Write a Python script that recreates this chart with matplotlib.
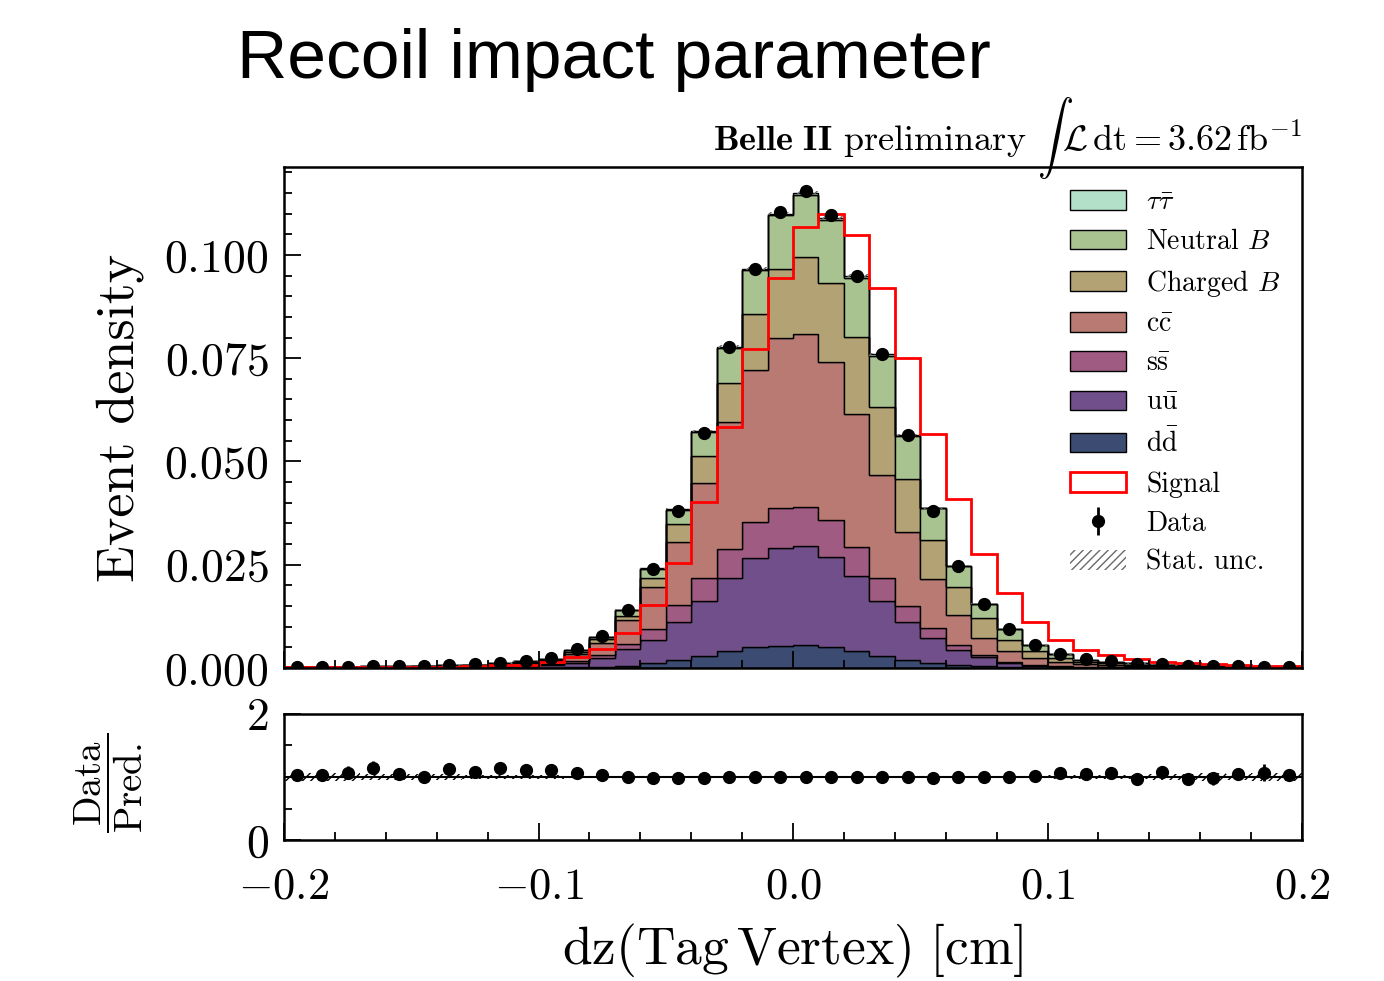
import numpy as np
import matplotlib
matplotlib.use("Agg")
import matplotlib.pyplot as plt
from matplotlib.patches import Patch
from matplotlib.ticker import MultipleLocator

plt.rcParams.update({
    "font.family": "serif",
    "font.serif": ["cmr10"],
    "mathtext.fontset": "cm",
    "axes.formatter.use_mathtext": True,
    "axes.unicode_minus": True,
})

# 40 bins of dz from -0.2 to 0.2 cm, densities in units of 1e-4
edges = np.round(np.linspace(-0.2, 0.2, 41), 3)
centers = 0.5 * (edges[:-1] + edges[1:])
unit = 1e-4

dd = [0.1, 0.1, 0.1, 0.1, 0.2, 0.2, 0.2, 0.3, 0.4, 0.6,
      1, 2, 3, 5, 12, 19, 29, 41, 50, 54,
      56, 50, 40, 29, 19, 13, 8, 5, 3, 1,
      1, 0.5, 0.4, 0.3, 0.2, 0.2, 0.1, 0.1, 0.1, 0.1]
uu = [0.7, 0.7, 0.7, 0.9, 0.8, 1.0, 1.3, 1.7, 2.4, 3.4,
      6, 11, 22, 41, 56, 92, 133, 178, 217, 237,
      239, 219, 183, 133, 92, 59, 36, 21, 9, 4,
      2, 1.5, 1.1, 0.9, 0.7, 0.5, 0.5, 0.4, 0.3, 0.3]
ss = [0.2, 0.2, 0.2, 0.3, 0.3, 0.4, 0.4, 0.6, 0.8, 1.5,
      2, 4, 6, 12, 26, 41, 57, 69, 87, 97,
      95, 89, 71, 57, 39, 24, 12, 6, 3, 2,
      1, 0.5, 0.5, 0.3, 0.2, 0.2, 0.1, 0.1, 0.1, 0.1]
cc = [1.0, 1.0, 1.0, 1.3, 1.3, 1.7, 2.0, 2.6, 3.6, 5.5,
      8, 17, 29, 58, 101, 154, 230, 308, 367, 412,
      418, 382, 320, 248, 178, 119, 72, 40, 25, 16,
      11, 6.5, 5, 3.5, 2.5, 1.9, 1.6, 1.2, 0.9, 0.9]
charged_b = [0.4, 0.4, 0.4, 0.5, 0.5, 0.6, 0.8, 1.0, 1.4, 2.5,
             3, 5, 9, 10, 24, 43, 65, 95, 136, 166,
             187, 191, 188, 165, 129, 95, 69, 48, 28, 17,
             8, 5, 4, 3, 2.4, 1.7, 1.4, 1.2, 0.9, 0.9]
neutral_b = [0.6, 0.6, 0.6, 0.9, 0.9, 1.1, 1.3, 1.8, 2.3, 2.4,
             1.9, 4.8, 6.7, 13.4, 21, 33.5, 57.7, 83.9, 106.1, 129.6,
             150.4, 154.6, 143.2, 124, 104.7, 76.4, 50, 35.4, 26.6, 14.8,
             9.9, 5.9, 3.9, 3, 2, 1.5, 1.3, 1.0, 0.7, 0.7]
tautau = [0, 0, 0, 0, 0, 0, 0, 0, 0.1, 0.1,
          0.1, 0.2, 0.3, 0.6, 1, 1.5, 2.3, 3.1, 3.9, 4.4,
          4.6, 4.4, 3.8, 3.0, 2.3, 1.6, 1.0, 0.6, 0.4, 0.2,
          0.1, 0.1, 0.1, 0, 0, 0, 0, 0, 0, 0]
signal = [2, 2, 2, 2, 3, 3, 3, 5, 7, 8,
          14, 26, 46, 85, 152, 253, 401, 584, 772, 943,
          1068, 1100, 1049, 919, 751, 566, 408, 276, 181, 112,
          68, 44, 31, 22, 15, 11, 9, 7, 5, 4]
data = [3.1, 3.1, 3.2, 4.6, 4.2, 5.0, 6.8, 8.6, 12.5, 17.8,
        24.4, 46.6, 78.3, 140, 238.6, 380, 568, 778, 967, 1105,
        1155, 1096, 949, 760, 564, 380, 248, 156, 95, 56,
        35, 21, 16, 10.7, 8.6, 5.8, 4.9, 4.2, 3.2, 3.1]
data_err = [0.3, 0.3, 0.3, 0.4, 0.4, 0.4, 0.5, 0.5, 0.6, 0.8,
            1, 1.4, 1.9, 2.6, 3.4, 4.3, 5.3, 6.1, 6.8, 7.3,
            7.5, 7.3, 6.8, 6.1, 5.3, 4.3, 3.5, 2.8, 2.2, 1.6,
            1.3, 1, 0.9, 0.7, 0.6, 0.5, 0.5, 0.4, 0.4, 0.3]
mc_err = [0.2, 0.2, 0.2, 0.2, 0.2, 0.2, 0.3, 0.3, 0.4, 0.5,
          0.6, 0.8, 1.1, 1.6, 2, 2.6, 3.2, 3.7, 4.1, 4.4,
          4.5, 4.4, 4.1, 3.7, 3.2, 2.6, 2.1, 1.7, 1.3, 1,
          0.8, 0.6, 0.5, 0.4, 0.4, 0.3, 0.3, 0.2, 0.2, 0.2]

# stack order bottom -> top
components = [
    (dd, "#3c4b72", r"$\mathrm{d\bar{d}}$"),
    (uu, "#714f8a", r"$\mathrm{u\bar{u}}$"),
    (ss, "#a05b82", r"$\mathrm{s\bar{s}}$"),
    (cc, "#b87a72", r"$\mathrm{c\bar{c}}$"),
    (charged_b, "#b3a273", r"Charged $B$"),
    (neutral_b, "#a8c290", r"Neutral $B$"),
    (tautau, "#b3e0c8", r"$\tau\bar{\tau}$"),
]

fig = plt.figure(figsize=(13.84, 9.81), dpi=100)
ax = fig.add_axes([0.2052, 0.3191, 0.7356, 0.5107])
rax = fig.add_axes([0.2052, 0.1437, 0.7356, 0.1285], sharex=ax)

bottom = np.zeros(len(centers))
for vals, color, _ in components:
    top = bottom + np.array(vals) * unit
    ax.stairs(top, edges, baseline=bottom, fill=True, facecolor=color,
              edgecolor="black", linewidth=1.0)
    bottom = top
total = bottom

mc = np.array(mc_err) * unit
ax.stairs(total + mc, edges, baseline=total - mc, fill=True, facecolor="none",
          edgecolor="dimgray", hatch="////", linewidth=0)
ax.stairs(np.array(signal) * unit, edges, color="red", linewidth=2.0)

d = np.array(data) * unit
de = np.array(data_err) * unit
ax.errorbar(centers, d, yerr=de, fmt="o", color="black", ms=8.5,
            elinewidth=2, capsize=0, zorder=5)

ax.set_xlim(-0.2, 0.2)
ax.set_ylim(0, 0.1213)
ax.yaxis.set_major_locator(MultipleLocator(0.025))
ax.yaxis.set_minor_locator(MultipleLocator(0.005))
ax.xaxis.set_major_locator(MultipleLocator(0.1))
ax.xaxis.set_minor_locator(MultipleLocator(0.02))
ax.tick_params(which="both", direction="in", top=False, right=False,
               labelsize=33, width=1.3, pad=11)
ax.tick_params(which="major", length=12)
ax.tick_params(which="minor", length=6)
ax.tick_params(labelbottom=False)
ax.set_ylabel("Event density", fontsize=39)
ax.yaxis.set_label_coords(-0.138, 0.5)
for s in ax.spines.values():
    s.set_linewidth(1.8)

ax.text(1.0, 1.034,
        r"$\mathbf{Belle\ II}$ preliminary $\int\,\mathcal{L}\,\mathrm{dt} = 3.62\,\mathrm{fb}^{-1}$",
        transform=ax.transAxes, ha="right", va="baseline", fontsize=26)

handles = [Patch(facecolor=c, edgecolor="black", linewidth=1.0, label=l)
           for _, c, l in components[::-1]]
handles.append(Patch(facecolor="white", edgecolor="red", linewidth=2.0, label="Signal"))
data_handle = ax.errorbar([], [], yerr=[], fmt="o", color="black", ms=8.5, elinewidth=2)
handles.append(Patch(facecolor="none", edgecolor="dimgray", hatch="////",
                     linewidth=0, label="Stat. unc."))
labels = [h.get_label() for h in handles]
handles.insert(8, data_handle)
labels.insert(8, "Data")
ax.legend(handles, labels, loc="upper left", bbox_to_anchor=(0.772, 0.955),
          frameon=False, fontsize=20, borderpad=0, borderaxespad=0,
          labelspacing=0.46, handlelength=2.0, handleheight=0.7, handletextpad=0.75)

# ratio panel
ratio = d / total
ratio_err = de / total
rel = mc / total
rax.stairs(1 + rel, edges, baseline=1 - rel, fill=True, facecolor="none",
           edgecolor="black", hatch="////", linewidth=0)
rax.axhline(1, color="black", linewidth=1.5, zorder=2)
rax.errorbar(centers, ratio, yerr=ratio_err, fmt="o", color="black", ms=8.5,
             elinewidth=2, capsize=0, zorder=5)
rax.set_ylim(0, 2)
rax.yaxis.set_major_locator(MultipleLocator(2))
rax.yaxis.set_minor_locator(MultipleLocator(0.5))
rax.tick_params(which="both", direction="in", top=False, right=False,
                labelsize=33, width=1.3, pad=11)
rax.tick_params(axis="x", pad=20, labelsize=32)
rax.tick_params(which="major", length=12)
rax.tick_params(which="minor", length=6)
for s in rax.spines.values():
    s.set_linewidth(1.8)
rax.set_ylabel(r"$\dfrac{\mathrm{Data}}{\mathrm{Pred.}}$", fontsize=28)
rax.yaxis.set_label_coords(-0.137, 0.45)
rax.set_xlabel(r"$\mathrm{dz(Tag\,Vertex)\ [cm]}$", fontsize=38.5)
rax.xaxis.set_label_coords(0.5, -0.65)

fig.text(0.171, 0.92, "Recoil impact parameter", fontsize=50,
         family=["Liberation Sans", "DejaVu Sans"], va="baseline")

fig.savefig("out.png", dpi=100)
